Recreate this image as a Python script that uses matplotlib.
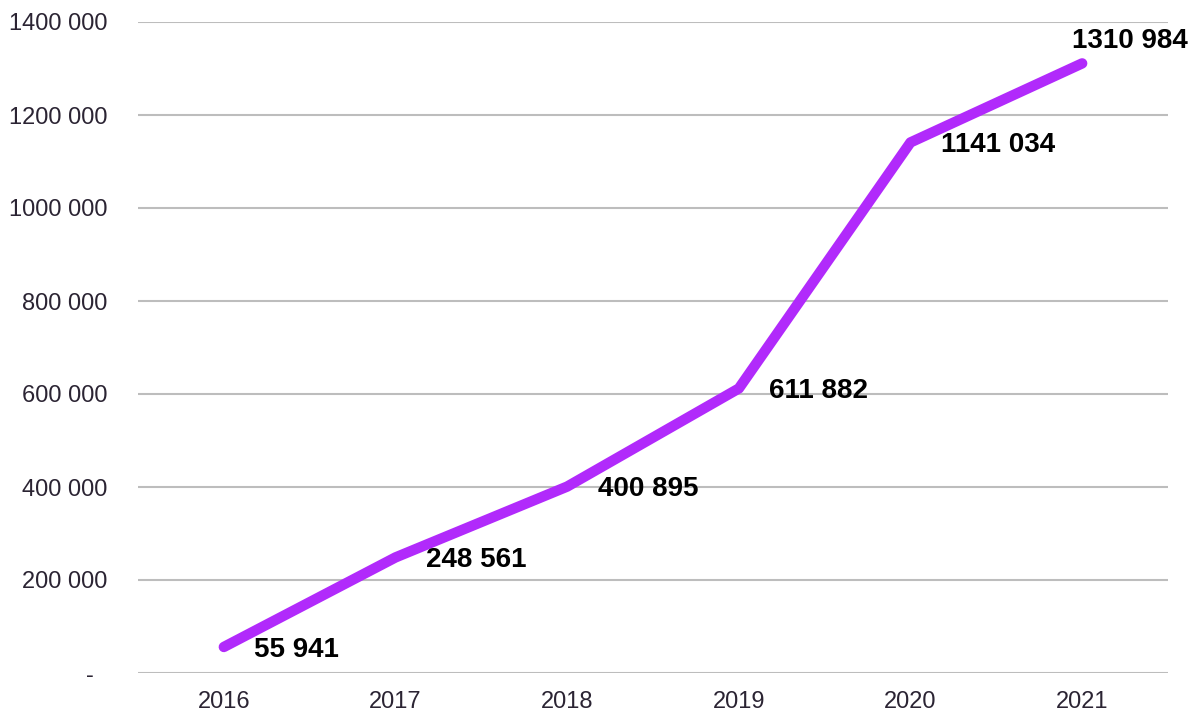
import matplotlib
matplotlib.use("Agg")
import matplotlib.pyplot as plt
from matplotlib.ticker import FixedLocator, FixedFormatter

years = ["2016", "2017", "2018", "2019", "2020", "2021"]
values = [55941, 248561, 400895, 611882, 1141034, 1310984]
value_labels = ["55 941", "248 561", "400 895", "611 882", "1141 034", "1310 984"]
y_ticks = [0, 200000, 400000, 600000, 800000, 1000000, 1200000, 1400000]
y_tick_labels = ["-  ", "200 000", "400 000", "600 000", "800 000", "1000 000", "1200 000", "1400 000"]

plt.rcParams["font.family"] = ["Liberation Sans", "DejaVu Sans"]

fig = plt.figure(figsize=(11.99, 7.14), dpi=100)
ax = fig.add_axes([138 / 1199, 41 / 714, 1030 / 1199, 651 / 714])

x = list(range(len(years)))
ax.plot(x, values, color="#B12AFB", lw=7.5, solid_capstyle="round",
        solid_joinstyle="round", zorder=3)

for i, (v, lab) in enumerate(zip(values, value_labels)):
    if i == len(values) - 1:
        ax.annotate(lab, (i, v), xytext=(-7, 16), textcoords="offset points",
                    ha="left", va="center", fontsize=20, fontweight="bold",
                    color="#000000")
    else:
        ax.annotate(lab, (i, v), xytext=(22, -2), textcoords="offset points",
                    ha="left", va="center", fontsize=20, fontweight="bold",
                    color="#000000")

ax.set_xlim(-0.5, len(years) - 0.5)
ax.set_ylim(0, 1400000)
ax.set_xticks(x)
ax.set_xticklabels(years)
ax.yaxis.set_major_locator(FixedLocator(y_ticks))
ax.yaxis.set_major_formatter(FixedFormatter(y_tick_labels))

ax.grid(axis="y", color="#bdbdbd", lw=1.5)
ax.set_axisbelow(True)
for s in ax.spines.values():
    s.set_visible(False)
ax.tick_params(axis="both", length=0, labelsize=17, colors="#2b2433")
ax.tick_params(axis="y", pad=22)
ax.tick_params(axis="x", pad=13)

fig.savefig("out.png", dpi=100)
